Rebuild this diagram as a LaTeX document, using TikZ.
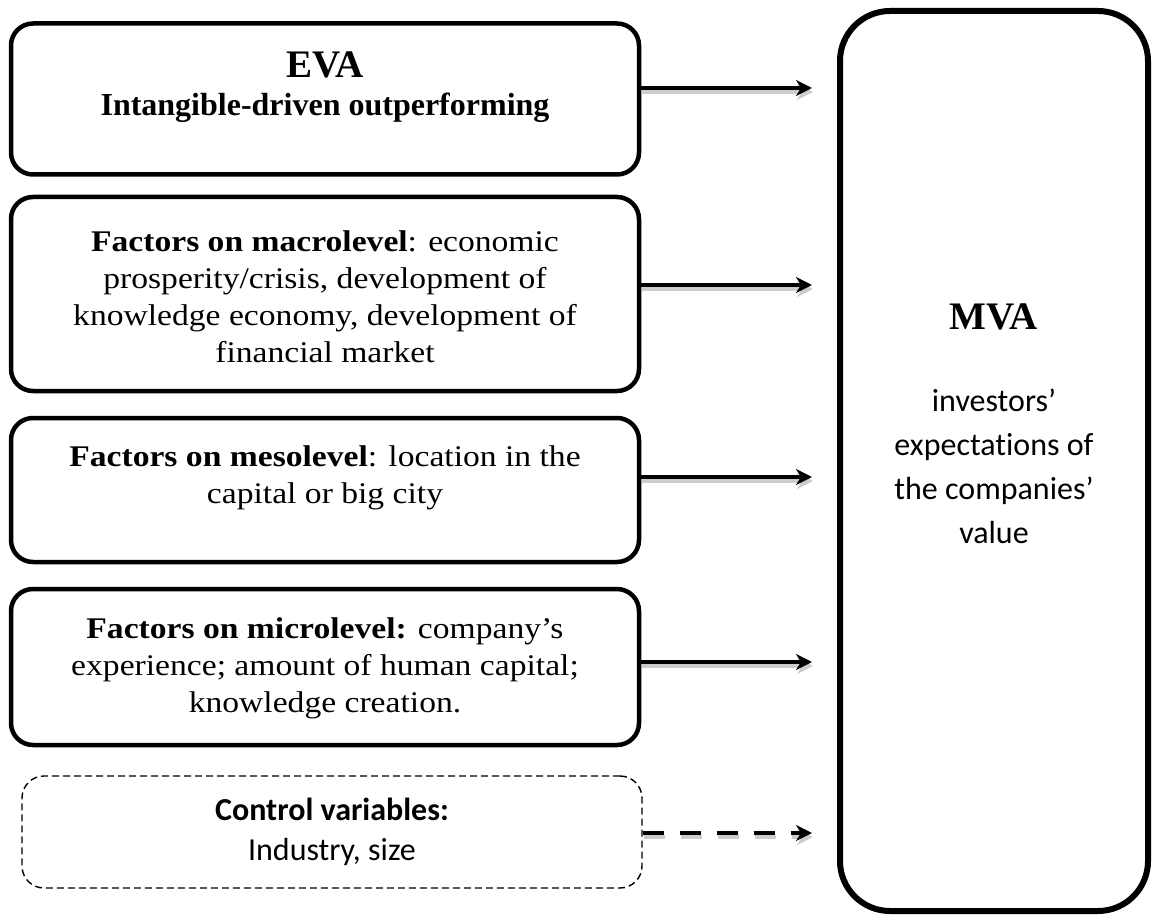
\documentclass[tikz,border=0pt]{standalone}
\usepackage{fontspec}
\setmainfont{Liberation Serif}
\newfontfamily\cambria[FakeStretch=1.12]{Liberation Serif}
\newfontfamily\calibri[Ligatures=NoCommon]{Carlito}
\usetikzlibrary{arrows.meta,calc}
\begin{document}
\begin{tikzpicture}[x=1pt,y=-1pt,
  box/.style={draw, line width=4.5pt, rounded corners=22pt, minimum width=628pt, inner sep=0pt},
  dbox/.style={draw, line width=1.4pt, dash pattern=on 7pt off 4pt, rounded corners=22pt, inner sep=0pt},
  bigbox/.style={draw, line width=6pt, rounded corners=50pt, inner sep=0pt},
  arr/.style={line width=4.5pt, -{Stealth[length=16pt,width=16pt,inset=5pt]}},
  darr/.style={arr, dash pattern=on 21pt off 16pt},
  shad/.style={draw=black!20, transform canvas={xshift=1pt,yshift=-4pt}},
  txt/.style={align=center, inner sep=0pt, anchor=base},
  cam/.style={font=\cambria\fontsize{30}{37}\selectfont},
  cal/.style={font=\calibri\fontsize{32}{44}\selectfont},
]
\useasboundingbox (0,0) rectangle (1152,915);

% boxes
\node[box, minimum height=151pt] (eva) at (325,99) {};
\node[box, minimum height=194pt] (macro) at (325,294) {};
\node[box, minimum height=144pt] (meso) at (325,490) {};
\node[box, minimum height=156pt] (micro) at (325,667) {};
\node[dbox, minimum width=620pt, minimum height=112pt] (ctrl) at (332,832) {};
\node[bigbox, minimum width=308pt, minimum height=900pt] (mva) at (994,461) {};

% texts (base anchor = baseline of the last line)
\node[txt, font=\bfseries\fontsize{39}{44}\selectfont] (evat) at (325,78) {EVA};
\node[txt, font=\bfseries\fontsize{32}{36}\selectfont] (evas) at (325,116) {Intangible-driven outperforming};
\node[txt, cam] (macrot) at (325,362) {\textbf{Factors on macrolevel}: economic\\prosperity/crisis, development of\\knowledge economy, development of\\financial market};
\node[txt, cam] (mesot) at (325,503) {\textbf{Factors on mesolevel}: location in the\\capital or big city};
\node[txt, cam] (microt) at (325,712) {\textbf{Factors on microlevel:} company’s\\experience; amount of human capital;\\knowledge creation.};
\node[txt, font=\calibri\fontsize{32}{40}\selectfont] (ctrlt) at (332,860) {\textbf{Control variables:}\\Industry, size};
\node[txt, font=\bfseries\fontsize{39}{44}\selectfont] (mvat) at (994,329) {MVA};
\node[txt, cal] (mvas) at (994,543) {investors’\\expectations of\\the companies’\\value};

% arrow tip x
\coordinate (tip) at (812,0);
\coordinate (a1) at ($(eva.east)+(0,-11)$);
\coordinate (a2) at ($(macro.east)+(0,-9)$);
\coordinate (a3) at ($(meso.east)+(0,-13)$);
\coordinate (a4) at ($(micro.east)+(0,-5)$);
\coordinate (a5) at ($(ctrl.east)+(0,1)$);

\foreach \a in {a1,a2,a3,a4} {
  \draw[arr, shad] (\a) -- (\a -| tip);
  \draw[arr] (\a) -- (\a -| tip);
}
\draw[darr, shad] (a5) -- (a5 -| tip);
\draw[darr] (a5) -- (a5 -| tip);
\end{tikzpicture}
\end{document}
